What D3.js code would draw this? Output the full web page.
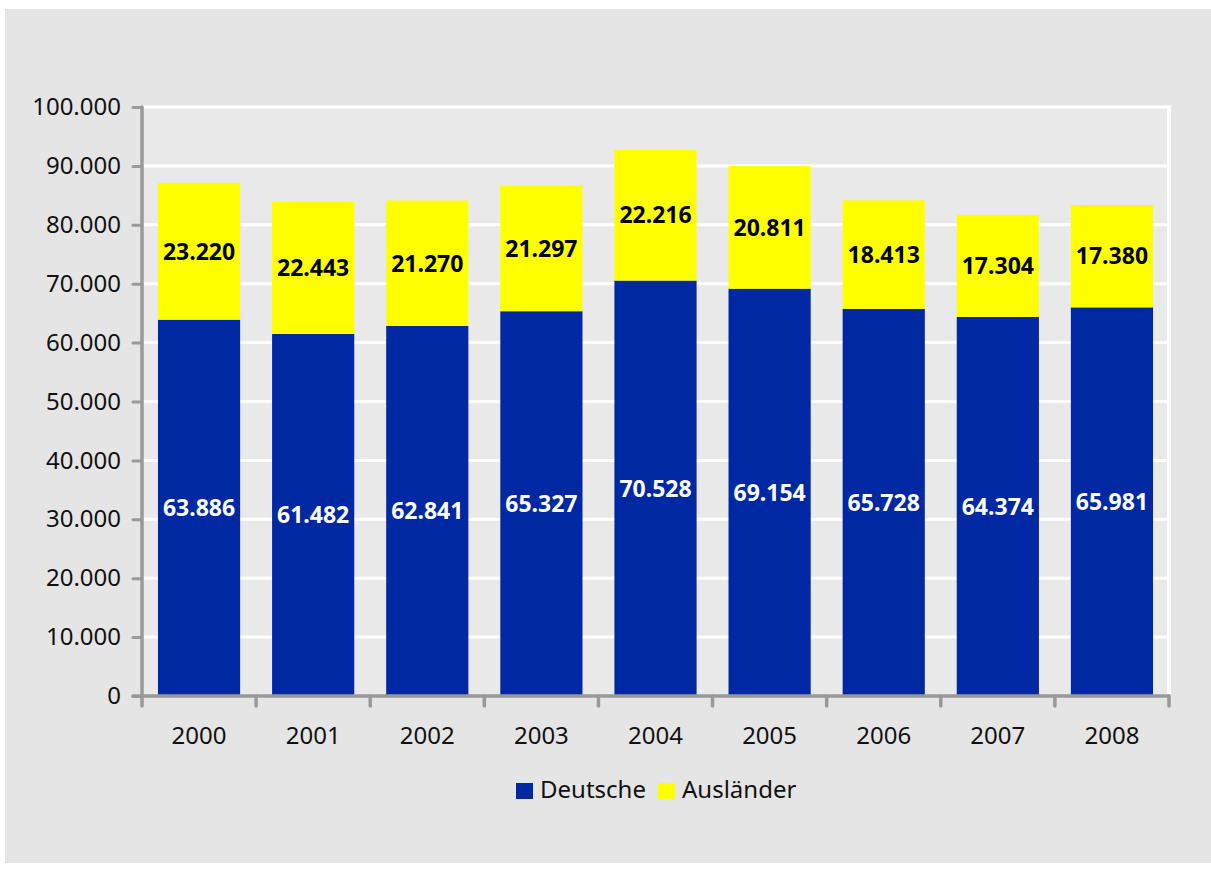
<!DOCTYPE html>
<html><head><meta charset="utf-8">
<script src="https://cdn.jsdelivr.net/npm/d3@7"></script>
<style>body{margin:0;background:#fff}svg{display:block}</style>
</head><body>
<svg id="c" width="1211" height="872"></svg>
<script>
const years = ["2000","2001","2002","2003","2004","2005","2006","2007","2008"];
const deutsche = [63886,61482,62841,65327,70528,69154,65728,64374,65981];
const auslaender = [23220,22443,21270,21297,22216,20811,18413,17304,17380];
const seriesNames = ["Deutsche","Ausländer"];
const yTicks = [0,10000,20000,30000,40000,50000,60000,70000,80000,90000,100000];

const colors = {Deutsche:"#0028a3", "Ausländer":"#ffff00"};
const font = "'Noto Sans', 'Open Sans', sans-serif";
const svg = d3.select("#c");
svg.append("rect").attr("x",5).attr("y",9).attr("width",1206).attr("height",854).attr("fill","#e5e5e5");

const L=142,R=1169,T=107,B=696;
const x = d3.scaleBand().domain(years).range([L,R]).paddingInner(0.28).paddingOuter(0.14);
const y = d3.scaleLinear().domain([0,100000]).range([B,T]);
const fmt = d => d3.format(",")(d).replace(/,/g,".");

svg.append("rect").attr("x",L).attr("y",T).attr("width",R-L).attr("height",B-T).attr("fill","#e9e9e9");
// gridlines
svg.append("g").selectAll("line").data(yTicks.filter(d=>d>0)).join("line")
  .attr("x1",L).attr("x2",R).attr("y1",d=>y(d)).attr("y2",d=>y(d))
  .attr("stroke","#fff").attr("stroke-width",3);
svg.append("line").attr("x1",R).attr("x2",R).attr("y1",T-1.5).attr("y2",B).attr("stroke","#fff").attr("stroke-width",4);

const data = years.map((yr,i)=>({yr, Deutsche:deutsche[i], "Ausländer":auslaender[i]}));
const stack = d3.stack().keys(seriesNames)(data);

stack.forEach(s=>{
  const g = svg.append("g");
  g.selectAll("rect").data(s).join("rect")
    .attr("x",d=>x(d.data.yr)).attr("width",x.bandwidth())
    .attr("y",d=>y(d[1])).attr("height",d=>y(d[0])-y(d[1]))
    .attr("fill",colors[s.key]);
  g.selectAll("text").data(s).join("text")
    .attr("x",d=>x(d.data.yr)+x.bandwidth()/2)
    .attr("y",d=>(y(d[0])+y(d[1]))/2)
    .attr("dy","0.36em").attr("text-anchor","middle")
    .attr("font-family",font).attr("font-size",23).attr("font-weight","bold")
    .attr("fill", s.key==="Deutsche" ? "#fff" : "#000")
    .text(d=>fmt(d[1]-d[0]));
});

// axes
const axColor="#999";
const yAxis = svg.append("g").attr("transform",`translate(${L},0)`)
  .call(d3.axisLeft(y).tickValues(yTicks).tickSize(9).tickPadding(12).tickFormat(fmt));
yAxis.select(".domain").remove();
yAxis.selectAll(".tick line").attr("stroke",axColor).attr("stroke-width",3).attr("stroke-linecap","round");
yAxis.selectAll("text").attr("font-family",font).attr("font-size",24).attr("fill","#111");
svg.append("line").attr("x1",L).attr("x2",L).attr("y1",T).attr("y2",B+10).attr("stroke",axColor).attr("stroke-width",3.5).attr("stroke-linecap","round");

const xb = svg.append("g").attr("transform",`translate(0,${B})`);
xb.append("line").attr("x1",L-9).attr("x2",R).attr("y1",0).attr("y2",0).attr("stroke",axColor).attr("stroke-width",3.5).attr("stroke-linecap","round");
const bounds = years.map(v=>x(v)-x.step()*x.paddingInner()/2).concat([R]);
xb.selectAll("line.t").data(bounds.slice(1)).join("line").attr("class","t")
  .attr("x1",d=>d).attr("x2",d=>d).attr("y1",0).attr("y2",10).attr("stroke",axColor).attr("stroke-width",3.5).attr("stroke-linecap","round");
xb.selectAll("text").data(years).join("text")
  .attr("x",d=>x(d)+x.bandwidth()/2).attr("y",48).attr("text-anchor","middle")
  .attr("font-family",font).attr("font-size",24).attr("fill","#111").text(d=>d);

// legend
const leg = svg.append("g");
const legItems = [{k:"Deutsche",x:516},{k:"Ausländer",x:658}];
legItems.forEach(it=>{
  leg.append("rect").attr("x",it.x).attr("y",783).attr("width",17).attr("height",16).attr("fill",colors[it.k]);
  leg.append("text").attr("x",it.x+24).attr("y",798)
    .attr("font-family",font).attr("font-size",24).attr("fill","#111").text(it.k);
});
</script>
</body></html>
